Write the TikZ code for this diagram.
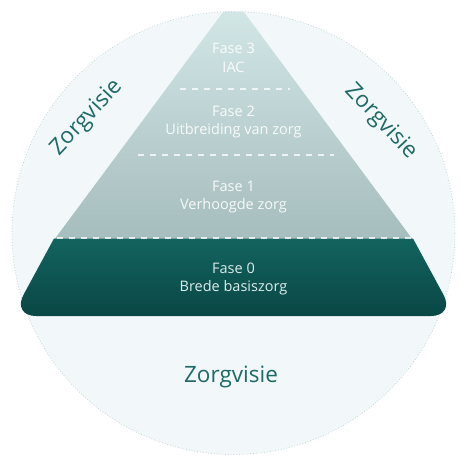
\documentclass[tikz,border=0pt]{standalone}
\usepackage{fontspec}
\setmainfont{Open Sans}
\definecolor{circfill}{HTML}{F2F8F9}
\definecolor{circline}{HTML}{C3D4D8}
\definecolor{pyrtop}{HTML}{D4E8E8}
\definecolor{pyrbot}{HTML}{A6BDBD}
\definecolor{bandtop}{HTML}{12635F}
\definecolor{bandbot}{HTML}{0A4745}
\definecolor{teal}{HTML}{1D6A67}
\definecolor{lighttext}{HTML}{DCECEB}
\tikzset{
  phase/.style={align=center, anchor=center, text=white, text opacity=0.9, inner sep=0pt,
    font=\fontsize{14.5}{18.5}\selectfont},
  phasezero/.style={phase, text=lighttext, text opacity=1},
  vision/.style={text=teal, inner sep=0pt, font=\fontsize{22.5}{26}\selectfont},
  divider/.style={draw=white, draw opacity=0.75, line width=1.8pt, dash pattern=on 6pt off 6pt}
}
\begin{document}
\begin{tikzpicture}[x=1pt,y=-1pt]
\useasboundingbox (0,0) rectangle (460,456);
% circle
\fill[circfill] (233.5,233) circle (221.5);
\draw[circline, line width=0.8pt, dotted] (233.5,233) circle (221.5);
% gray pyramid, clipped by circle
\begin{scope}
  \clip (233.5,233) circle (221.5);
  \shade[top color=pyrtop, bottom color=pyrbot] (233.5,-2) -- (413,240) -- (54,240) -- cycle;
\end{scope}
% base band
\shade[top color=bandtop, bottom color=bandbot]
  (54,238.5) [rounded corners=24pt] -- (12,316) -- (455,316) [sharp corners] -- (413,238.5) -- cycle;
% dividers
\coordinate (d1a) at (180,89); \coordinate (d1b) at (290,89);
\coordinate (d2a) at (138,155); \coordinate (d2b) at (334,155);
\coordinate (d3a) at (57,238); \coordinate (d3b) at (412,238);
\draw[divider] (d1a) -- (d1b);
\draw[divider] (d2a) -- (d2b);
\draw[divider] (d3a) -- (d3b);
% phase labels
\node[phase] (f3) at (233.5,58) {Fase 3\\IAC};
\node[phase] (f2) at (233.5,122) {Fase 2\\Uitbreiding van zorg};
\node[phase] (f1) at (233.5,197) {Fase 1\\Verhoogde zorg};
\node[phasezero] (f0) at (233.5,279) {Fase 0\\Brede basiszorg};
% vision labels
\node[vision] (zb) at (231,377) {Zorgvisie};
\node[vision, rotate=47] (zl) at (87,118) {Zorgvisie};
\node[vision, rotate=-47] (zr) at (381,122) {Zorgvisie};
\end{tikzpicture}
\end{document}
